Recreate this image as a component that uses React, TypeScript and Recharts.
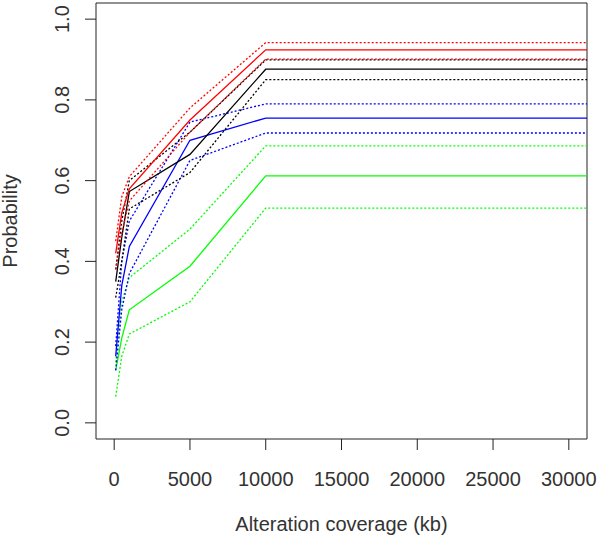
import React from "react";
import { LineChart, Line, XAxis, YAxis, ReferenceArea, Label } from "recharts";

const coverageKb = [100, 500, 1000, 5000, 10000, 32000];

const redMid = [0.42, 0.52, 0.58, 0.75, 0.924, 0.924];
const redHi = [0.45, 0.56, 0.61, 0.78, 0.942, 0.942];
const redLo = [0.38, 0.47, 0.55, 0.72, 0.901, 0.901];
const blackMid = [0.35, 0.46, 0.573, 0.665, 0.876, 0.876];
const blackHi = [0.38, 0.5, 0.6, 0.72, 0.899, 0.899];
const blackLo = [0.31, 0.4, 0.53, 0.62, 0.85, 0.85];
const blueMid = [0.165, 0.34, 0.437, 0.7, 0.755, 0.755];
const blueHi = [0.19, 0.4, 0.5, 0.745, 0.79, 0.79];
const blueLo = [0.13, 0.28, 0.37, 0.65, 0.718, 0.718];
const greenMid = [0.13, 0.21, 0.28, 0.388, 0.612, 0.612];
const greenHi = [0.15, 0.3, 0.36, 0.48, 0.686, 0.686];
const greenLo = [0.065, 0.165, 0.22, 0.3, 0.532, 0.532];

const xTicks = [0, 5000, 10000, 15000, 20000, 25000, 30000];
const yTicks = [0, 0.2, 0.4, 0.6, 0.8, 1.0];

const xLabel = "Alteration coverage (kb)";
const yLabel = "Probability";

const data = coverageKb.map((x, i) => ({
  x,
  redMid: redMid[i],
  redHi: redHi[i],
  redLo: redLo[i],
  blackMid: blackMid[i],
  blackHi: blackHi[i],
  blackLo: blackLo[i],
  blueMid: blueMid[i],
  blueHi: blueHi[i],
  blueLo: blueLo[i],
  greenMid: greenMid[i],
  greenHi: greenHi[i],
  greenLo: greenLo[i],
}));

const FONT = "'Liberation Sans', Arial, sans-serif";
const FS = 20;
const TXT = "#333";

const XTick = (props: any) => {
  const { x, y, payload } = props;
  return (
    <text x={x} y={y + 34} textAnchor="middle" fontFamily={FONT} fontSize={FS} fill={TXT}>
      {payload.value}
    </text>
  );
};

const YTick = (props: any) => {
  const { x, y, payload } = props;
  const bx = x - 14;
  return (
    <text
      x={bx}
      y={y}
      textAnchor="middle"
      fontFamily={FONT}
      fontSize={FS}
      fill={TXT}
      transform={`rotate(-90, ${bx}, ${y})`}
    >
      {Number(payload.value).toFixed(1)}
    </text>
  );
};

const series: { key: string; color: string; dotted: boolean }[] = [
  { key: "greenHi", color: "#00FF00", dotted: true },
  { key: "greenMid", color: "#00FF00", dotted: false },
  { key: "greenLo", color: "#00FF00", dotted: true },
  { key: "blueHi", color: "#0000FF", dotted: true },
  { key: "blueMid", color: "#0000FF", dotted: false },
  { key: "blueLo", color: "#0000FF", dotted: true },
  { key: "blackHi", color: "#000000", dotted: true },
  { key: "blackMid", color: "#000000", dotted: false },
  { key: "blackLo", color: "#000000", dotted: true },
  { key: "redHi", color: "#FF0000", dotted: true },
  { key: "redMid", color: "#FF0000", dotted: false },
  { key: "redLo", color: "#FF0000", dotted: true },
];

export default function App() {
  return (
    <div style={{ position: "absolute", left: 0, top: 0, width: 600, height: 539, background: "#fff" }}>
      <LineChart width={600} height={539} data={data} margin={{ top: 3, right: 13, bottom: 0, left: 0 }}>
        <XAxis
          type="number"
          dataKey="x"
          domain={[-1200, 31200]}
          ticks={xTicks}
          allowDataOverflow
          height={100}
          tickSize={11}
          tick={<XTick />}
          tickLine={{ stroke: "#222" }}
          axisLine={false}
          interval={0}
        >
          <Label
            content={(p: any) => {
              const vb = p.viewBox;
              return (
                <text
                  x={vb.x + vb.width / 2}
                  y={531}
                  textAnchor="middle"
                  fontFamily={FONT}
                  fontSize={FS}
                  fill={TXT}
                >
                  {xLabel}
                </text>
              );
            }}
          />
        </XAxis>
        <YAxis
          type="number"
          domain={[-0.04, 1.04]}
          ticks={yTicks}
          allowDataOverflow
          width={96}
          tickSize={11}
          tick={<YTick />}
          tickLine={{ stroke: "#222" }}
          axisLine={false}
          interval={0}
        >
          <Label
            content={(p: any) => {
              const vb = p.viewBox;
              const cy = vb.y + vb.height / 2;
              const bx = 17;
              return (
                <text
                  x={bx}
                  y={cy}
                  textAnchor="middle"
                  fontFamily={FONT}
                  fontSize={FS}
                  fill={TXT}
                  transform={`rotate(-90, ${bx}, ${cy})`}
                >
                  {yLabel}
                </text>
              );
            }}
          />
        </YAxis>
        {series.map((s) => (
          <Line
            key={s.key}
            dataKey={s.key}
            type="linear"
            stroke={s.color}
            strokeWidth={1.3}
            strokeDasharray={s.dotted ? "2 2" : undefined}
            dot={false}
            activeDot={false}
            isAnimationActive={false}
          />
        ))}
        <ReferenceArea
          x1={-1200}
          x2={31200}
          y1={-0.04}
          y2={1.04}
          fill="none"
          fillOpacity={0}
          stroke="#222"
          strokeWidth={1}
          ifOverflow="visible"
        />
      </LineChart>
    </div>
  );
}
